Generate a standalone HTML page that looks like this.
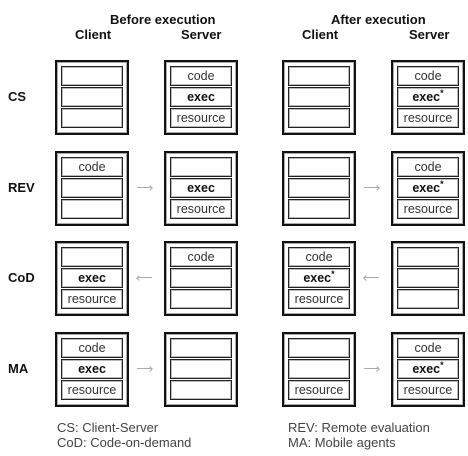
<!DOCTYPE html>
<html><head><style>
body{margin:0;width:468px;height:456px;background:#fff;font-family:"Liberation Sans",sans-serif;position:relative;overflow:hidden;color:#111}
.t{position:absolute;font-size:13px;white-space:nowrap}
.b{font-weight:bold}
.box{position:absolute;width:70px;height:71px;border:2px solid #111;box-shadow:inset 0 0 0 1px #aaa}
.c{position:absolute;left:4px;width:60px;height:18px;border:1px solid #222;box-shadow:inset 0 0 0 1px #bbb;font-size:12.5px;text-align:center;line-height:18px;color:#333}
.c.b{color:#111}
.c sup{font-size:9px;line-height:0}
.c1{top:4px}.c2{top:25px}.c3{top:46px}
.ar{position:absolute;width:15px;height:1px;background:#aaa}
.ar.r::after{content:"";position:absolute;right:0;top:-1px;width:3px;height:3px;border-right:1px solid #aaa;border-top:1px solid #aaa;transform:rotate(45deg)}
.ar.l::after{content:"";position:absolute;left:0;top:-1px;width:3px;height:3px;border-left:1px solid #aaa;border-bottom:1px solid #aaa;transform:rotate(45deg)}
</style></head><body>
<div class="t b" style="left:110px;top:12px">Before execution</div>
<div class="t b" style="left:75px;top:27px">Client</div>
<div class="t b" style="left:181px;top:27px">Server</div>
<div class="t b" style="left:331px;top:12px">After execution</div>
<div class="t b" style="left:302px;top:27px">Client</div>
<div class="t b" style="left:409px;top:27px">Server</div>

<div class="t b" style="left:8px;top:89px">CS</div>
<div class="t b" style="left:8px;top:180px">REV</div>
<div class="t b" style="left:8px;top:270px">CoD</div>
<div class="t b" style="left:8px;top:361px">MA</div>

<div class="box" style="left:55px;top:60px"><div class="c c1"></div><div class="c c2"></div><div class="c c3"></div></div>
<div class="box" style="left:164px;top:60px"><div class="c c1">code</div><div class="c c2 b">exec</div><div class="c c3">resource</div></div>
<div class="box" style="left:282px;top:60px"><div class="c c1"></div><div class="c c2"></div><div class="c c3"></div></div>
<div class="box" style="left:391px;top:60px"><div class="c c1">code</div><div class="c c2 b">exec<sup>*</sup></div><div class="c c3">resource</div></div>

<div class="box" style="left:55px;top:151px"><div class="c c1">code</div><div class="c c2"></div><div class="c c3"></div></div>
<div class="ar r" style="left:137px;top:187px"></div>
<div class="box" style="left:164px;top:151px"><div class="c c1"></div><div class="c c2 b">exec</div><div class="c c3">resource</div></div>
<div class="box" style="left:282px;top:151px"><div class="c c1"></div><div class="c c2"></div><div class="c c3"></div></div>
<div class="ar r" style="left:364px;top:187px"></div>
<div class="box" style="left:391px;top:151px"><div class="c c1">code</div><div class="c c2 b">exec<sup>*</sup></div><div class="c c3">resource</div></div>

<div class="box" style="left:55px;top:241px"><div class="c c1"></div><div class="c c2 b">exec</div><div class="c c3">resource</div></div>
<div class="ar l" style="left:137px;top:277px"></div>
<div class="box" style="left:164px;top:241px"><div class="c c1">code</div><div class="c c2"></div><div class="c c3"></div></div>
<div class="box" style="left:282px;top:241px"><div class="c c1">code</div><div class="c c2 b">exec<sup>*</sup></div><div class="c c3">resource</div></div>
<div class="ar l" style="left:364px;top:277px"></div>
<div class="box" style="left:391px;top:241px"><div class="c c1"></div><div class="c c2"></div><div class="c c3"></div></div>

<div class="box" style="left:55px;top:332px"><div class="c c1">code</div><div class="c c2 b">exec</div><div class="c c3">resource</div></div>
<div class="ar r" style="left:137px;top:368px"></div>
<div class="box" style="left:164px;top:332px"><div class="c c1"></div><div class="c c2"></div><div class="c c3"></div></div>
<div class="box" style="left:282px;top:332px"><div class="c c1"></div><div class="c c2"></div><div class="c c3">resource</div></div>
<div class="ar r" style="left:364px;top:368px"></div>
<div class="box" style="left:391px;top:332px"><div class="c c1">code</div><div class="c c2 b">exec<sup>*</sup></div><div class="c c3">resource</div></div>

<div class="t" style="left:57px;top:420px;color:#444">CS: Client-Server</div>
<div class="t" style="left:57px;top:435px;color:#444">CoD: Code-on-demand</div>
<div class="t" style="left:288px;top:420px;color:#444">REV: Remote evaluation</div>
<div class="t" style="left:288px;top:435px;color:#444">MA: Mobile agents</div>
</body></html>
